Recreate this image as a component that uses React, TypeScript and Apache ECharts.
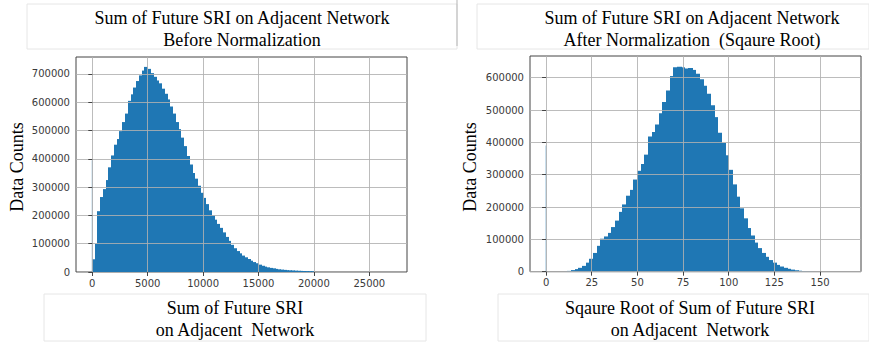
import React, { useEffect, useRef } from "react";
import * as echarts from "echarts";

// ---------- data ----------
const leftBinStart = 0;
const leftBinWidth = 250;
const leftCounts = [
  45000, 100000, 215000, 265000, 293000, 325000, 370000, 412000, 450000, 470000,
  498000, 530000, 560000, 605000, 628000, 652000, 675000, 695000, 712000, 725000,
  718000, 703000, 690000, 677000, 667000, 648000, 630000, 610000, 585000, 560000,
  530000, 505000, 475000, 445000, 410000, 380000, 350000, 330000, 305000, 280000,
  262000, 240000, 218000, 200000, 185000, 170000, 156000, 140000, 124000, 110000,
  96000, 84000, 74000, 66000, 58000, 52000, 46000, 40000, 35000, 31000,
  26000, 22000, 19000, 16500, 14500, 13000, 11000, 9500, 8500, 7500,
  6500, 6000, 5500, 4800, 4300, 3900, 3500, 3200, 2900, 2600,
];

const rightBinStart = 10;
const rightBinWidth = 2;
const rightCounts = [
  500, 2500, 5000, 8000, 12000, 18000, 28000, 40000, 58000, 80000,
  102000, 109000, 120000, 138000, 158000, 185000, 208000, 235000, 253000, 285000,
  312000, 333000, 362000, 418000, 432000, 455000, 490000, 525000, 560000, 605000,
  632000, 634000, 632000, 628000, 630000, 624000, 612000, 595000, 575000, 550000,
  515000, 478000, 430000, 398000, 360000, 315000, 270000, 232000, 196000, 165000,
  135000, 112000, 90000, 73000, 58000, 46000, 36000, 28000, 21000, 16000,
  12000, 9000, 6500, 4500, 3000, 2000, 1500, 1000,
];

const leftZeroSpike = 395000;
const rightZeroSpike = 390000;

const leftXTicks = [0, 5000, 10000, 15000, 20000, 25000];
const rightXTicks = [0, 25, 50, 75, 100, 125, 150];
const leftYTicks = [0, 100000, 200000, 300000, 400000, 500000, 600000, 700000];
const rightYTicks = [0, 100000, 200000, 300000, 400000, 500000, 600000];

const titleLeft = ["Sum of Future SRI on Adjacent Network", "Before Normalization"];
const titleRight = ["Sum of Future SRI on Adjacent Network", "After Normalization  (Sqaure Root)"];
const xLabelLeft = ["Sum of Future SRI", "on Adjacent  Network"];
const xLabelRight = ["Sqaure Root of Sum of Future SRI", "on Adjacent  Network"];
const yLabel = "Data Counts";

function binsToData(start: number, width: number, counts: number[]) {
  return counts.map((c, i) => [start + i * width, start + (i + 1) * width, c]);
}

const BLUE = "#1f77b4";

const histRender = (params: any, api: any) => {
  const x0 = api.value(0);
  const x1 = api.value(1);
  const y = api.value(2);
  const a = api.coord([x0, y]);
  const b = api.coord([x1, 0]);
  const left = Math.floor(a[0]);
  const right = Math.ceil(b[0]);
  return {
    type: "rect",
    shape: { x: left, y: a[1], width: right - left, height: b[1] - a[1] },
    style: { fill: BLUE },
  };
};

const spikeRender = (params: any, api: any) => {
  const a = api.coord([api.value(0), api.value(1)]);
  const b = api.coord([api.value(0), 0]);
  return {
    type: "rect",
    shape: { x: a[0] - 0.6, y: a[1], width: 1.2, height: b[1] - a[1] },
    style: { fill: "rgba(31,119,180,0.45)" },
  };
};

const tickFont = { fontFamily: "DejaVu Sans", fontSize: 10, color: "#3a3a3a" };
const gridLine = { show: true, lineStyle: { color: "rgba(176,176,176,0.85)", width: 1 } };
const plain = (v: number) => String(v);

function xAxis(gridIndex: number, min: number, max: number, ticks: number[]) {
  return {
    type: "value",
    gridIndex,
    min,
    max,
    z: 5,
    axisLine: { show: false },
    axisTick: { show: true, length: 4, lineStyle: { color: "#444" }, customValues: ticks },
    axisLabel: { ...tickFont, margin: 6, customValues: ticks, formatter: plain },
    splitLine: gridLine,
  };
}
function yAxis(gridIndex: number, max: number, ticks: number[]) {
  return {
    type: "value",
    gridIndex,
    min: 0,
    max,
    z: 5,
    axisLine: { show: false },
    axisTick: { show: true, length: 4, lineStyle: { color: "#444" }, customValues: ticks },
    axisLabel: { ...tickFont, margin: 6, customValues: ticks, formatter: plain },
    splitLine: gridLine,
  };
}

const serif = '"Liberation Serif", "Times New Roman", serif';

function twoLines(lines: string[], cx: number, y1: number, y2: number) {
  return lines.map((t, i) => ({
    type: "text",
    z: 10,
    style: {
      text: t,
      x: cx,
      y: i === 0 ? y1 : y2,
      fill: "#000",
      font: `18px ${serif}`,
      textAlign: "center",
      textVerticalAlign: "middle",
    },
  }));
}

export default function App() {
  const ref = useRef<HTMLDivElement>(null);
  useEffect(() => {
    if (!ref.current) return;
    const chart = echarts.init(ref.current, null, { renderer: "svg" });
    const option: any = {
      animation: false,
      backgroundColor: "#fff",
      grid: [
        { left: 76, top: 57, width: 331, height: 215, show: true, borderColor: "#444", borderWidth: 1, backgroundColor: "#fff", containLabel: false },
        { left: 530, top: 56, width: 331, height: 215.7, show: true, borderColor: "#444", borderWidth: 1, backgroundColor: "#fff", containLabel: false },
      ],
      xAxis: [xAxis(0, -1470, 28400, leftXTicks), xAxis(1, -8.8, 172.4, rightXTicks)],
      yAxis: [yAxis(0, 760000, leftYTicks), yAxis(1, 667000, rightYTicks)],
      series: [
        {
          type: "custom",
          xAxisIndex: 0,
          yAxisIndex: 0,
          renderItem: histRender,
          encode: { x: [0, 1], y: 2 },
          data: binsToData(leftBinStart, leftBinWidth, leftCounts),
          z: 2,
        },
        {
          type: "custom",
          xAxisIndex: 0,
          yAxisIndex: 0,
          renderItem: spikeRender,
          encode: { x: 0, y: 1 },
          data: [[0, leftZeroSpike]],
          z: 2,
        },
        {
          type: "custom",
          xAxisIndex: 1,
          yAxisIndex: 1,
          renderItem: histRender,
          encode: { x: [0, 1], y: 2 },
          data: binsToData(rightBinStart, rightBinWidth, rightCounts),
          z: 2,
        },
        {
          type: "custom",
          xAxisIndex: 1,
          yAxisIndex: 1,
          renderItem: spikeRender,
          encode: { x: 0, y: 1 },
          data: [[0, rightZeroSpike]],
          z: 2,
        },
      ],
      graphic: [
        { type: "rect", z: 9, shape: { x: 27, y: 4, width: 430, height: 45 }, style: { fill: "#fff", stroke: "#e6e6e6", lineWidth: 1 } },
        { type: "line", z: 9, shape: { x1: 457, y1: 0, x2: 457, y2: 46 }, style: { stroke: "#b5b5b5", lineWidth: 1 } },
        { type: "rect", z: 9, shape: { x: 477, y: 4, width: 392, height: 45 }, style: { fill: "#fff", stroke: "#e6e6e6", lineWidth: 1 } },
        { type: "rect", z: 9, shape: { x: 44, y: 294, width: 382, height: 47 }, style: { fill: "#fff", stroke: "#e6e6e6", lineWidth: 1 } },
        { type: "rect", z: 9, shape: { x: 498, y: 294, width: 371, height: 47 }, style: { fill: "#fff", stroke: "#e6e6e6", lineWidth: 1 } },
        ...twoLines(titleLeft, 242, 18, 40),
        ...twoLines(titleRight, 692, 18, 40),
        ...twoLines(xLabelLeft, 235, 308, 330),
        ...twoLines(xLabelRight, 690, 308, 330),
        {
          type: "text",
          z: 10,
          x: 17,
          y: 167,
          rotation: Math.PI / 2,
          style: { text: yLabel, x: 0, y: 0, fill: "#000", font: `18px ${serif}`, textAlign: "center", textVerticalAlign: "middle" },
        },
        {
          type: "text",
          z: 10,
          x: 470,
          y: 167,
          rotation: Math.PI / 2,
          style: { text: yLabel, x: 0, y: 0, fill: "#000", font: `18px ${serif}`, textAlign: "center", textVerticalAlign: "middle" },
        },
      ],
    };
    chart.setOption(option);
    return () => chart.dispose();
  }, []);
  return (
    <div
      ref={ref}
      style={{ position: "absolute", left: 0, top: 0, width: 869, height: 343 }}
    />
  );
}
